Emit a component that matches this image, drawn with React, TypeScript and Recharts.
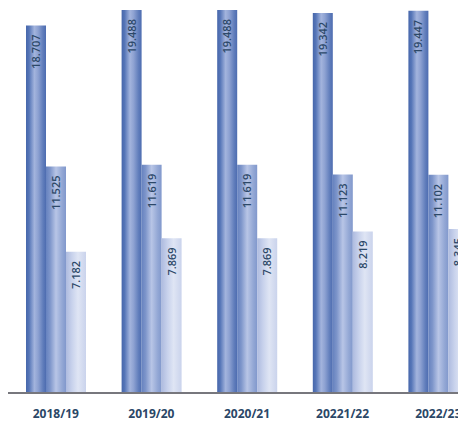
import React from "react";
import { BarChart, Bar, XAxis, YAxis, LabelList } from "recharts";

const periods = ["2018/19", "2019/20", "2020/21", "20221/22", "2022/23"];
const serieA = [18707, 19488, 19488, 19342, 19447];
const serieB = [11525, 11619, 11619, 11123, 11102];
const serieC = [7182, 7869, 7869, 8219, 8345];

const data = periods.map((p, i) => ({
  period: p,
  a: serieA[i],
  b: serieB[i],
  c: serieC[i],
}));

const fmt = (v: number) => v.toLocaleString("de-DE");

const VerticalLabel = (props: any) => {
  const { x, y, width, value } = props;
  const cx = x + width / 2 + 4;
  const ty = y + 9;
  return (
    <text
      x={cx}
      y={ty}
      transform={`rotate(-90 ${cx} ${ty})`}
      textAnchor="end"
      fontSize={11}
      fontFamily="'Open Sans', sans-serif"
      fontWeight={600}
      fill="#2c4868"
    >
      {fmt(value)}
    </text>
  );
};

export default function App() {
  return (
    <div
      style={{
        position: "absolute",
        left: 0,
        top: 0,
        width: 458,
        height: 423,
        overflow: "hidden",
      }}
    >
      <BarChart
        width={486}
        height={423}
        data={data}
        margin={{ top: 0, right: 0, bottom: 0, left: 8 }}
        barCategoryGap={17}
        barGap={0}
      >
        <defs>
          <linearGradient id="gA" x1="0" y1="0" x2="1" y2="0">
            <stop offset="0" stopColor="#4767ab" />
            <stop offset="0.15" stopColor="#5575b7" />
            <stop offset="0.42" stopColor="#a3b4dd" />
            <stop offset="0.6" stopColor="#8ea2d2" />
            <stop offset="0.85" stopColor="#607dbb" />
            <stop offset="1" stopColor="#4d6cb0" />
          </linearGradient>
          <linearGradient id="gB" x1="0" y1="0" x2="1" y2="0">
            <stop offset="0" stopColor="#6682bf" />
            <stop offset="0.2" stopColor="#7d95ca" />
            <stop offset="0.5" stopColor="#b8c5e6" />
            <stop offset="0.8" stopColor="#94a8d5" />
            <stop offset="1" stopColor="#8198cc" />
          </linearGradient>
          <linearGradient id="gC" x1="0" y1="0" x2="1" y2="0">
            <stop offset="0" stopColor="#aebbdf" />
            <stop offset="0.3" stopColor="#c8d2ec" />
            <stop offset="0.6" stopColor="#dfe5f4" />
            <stop offset="1" stopColor="#cad3ec" />
          </linearGradient>
        </defs>
        <XAxis
          dataKey="period"
          height={30}
          tickLine={false}
          tickSize={0}
          tickMargin={16}
          axisLine={{ stroke: "#77777d", strokeWidth: 2 }}
          tick={{
            fill: "#2b4767",
            fontSize: 12,
            fontWeight: 700,
            fontFamily: "'Open Sans', sans-serif",
          }}
          interval={0}
        />
        <YAxis hide domain={[0, 20000]} />
        <Bar dataKey="a" barSize={20} fill="url(#gA)" isAnimationActive={false}>
          <LabelList dataKey="a" content={VerticalLabel} />
        </Bar>
        <Bar dataKey="b" barSize={20} fill="url(#gB)" isAnimationActive={false}>
          <LabelList dataKey="b" content={VerticalLabel} />
        </Bar>
        <Bar dataKey="c" barSize={20} fill="url(#gC)" isAnimationActive={false}>
          <LabelList dataKey="c" content={VerticalLabel} />
        </Bar>
      </BarChart>
    </div>
  );
}
